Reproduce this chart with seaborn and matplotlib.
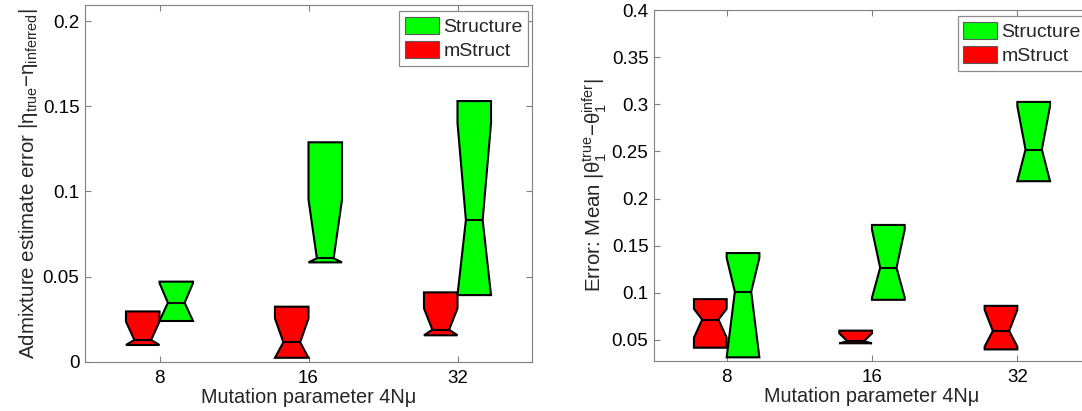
import matplotlib
matplotlib.use("Agg")
import numpy as np
import matplotlib.pyplot as plt
import seaborn as sns
from matplotlib.patches import Patch
from matplotlib.ticker import FixedLocator, FuncFormatter

# Categories and methods
mutation_levels = ["8", "16", "32"]
methods = ["Structure", "mStruct"]
method_colors = {"Structure": "#00ff00", "mStruct": "#ff0000"}

# Panel 1: admixture estimate error |eta_true - eta_inferred|
# (lower quartile, lower notch, median, upper notch, upper quartile)
adm_structure_q1 = [0.0239, 0.0583, 0.0391]
adm_structure_cilo = [0.0239, 0.0583, 0.0391]
adm_structure_med = [0.0346, 0.0607, 0.0832]
adm_structure_cihi = [0.0462, 0.0953, 0.1400]
adm_structure_q3 = [0.0470, 0.1288, 0.1530]

adm_mstruct_q1 = [0.0098, 0.0023, 0.0155]
adm_mstruct_cilo = [0.0098, 0.0023, 0.0155]
adm_mstruct_med = [0.0128, 0.0114, 0.0188]
adm_mstruct_cihi = [0.0235, 0.0254, 0.0313]
adm_mstruct_q3 = [0.0295, 0.0323, 0.0407]

# Panel 2: mean error |theta_1^true - theta_1^infer|
theta_structure_q1 = [0.0316, 0.0926, 0.2184]
theta_structure_cilo = [0.0316, 0.0950, 0.2184]
theta_structure_med = [0.1012, 0.1266, 0.2520]
theta_structure_cihi = [0.1370, 0.1670, 0.2980]
theta_structure_q3 = [0.1422, 0.1720, 0.3025]

theta_mstruct_q1 = [0.0418, 0.0465, 0.0400]
theta_mstruct_cilo = [0.0525, 0.0465, 0.0430]
theta_mstruct_med = [0.0716, 0.0486, 0.0596]
theta_mstruct_cihi = [0.0830, 0.0570, 0.0820]
theta_mstruct_q3 = [0.0933, 0.0599, 0.0862]

adm_yticks = [0, 0.05, 0.1, 0.15, 0.2]
theta_yticks = [0.05, 0.1, 0.15, 0.2, 0.25, 0.3, 0.35, 0.4]

sns.set_style("ticks")
plt.rcParams["font.family"] = ["Liberation Sans", "DejaVu Sans"]
plt.rcParams["mathtext.fontset"] = "custom"
plt.rcParams["mathtext.rm"] = "Liberation Sans"
plt.rcParams["mathtext.it"] = "Liberation Sans:italic"
plt.rcParams["mathtext.sf"] = "Liberation Sans"

SPINE = "0.5"
FS = 13.5


def box_stats(q1, cilo, med, cihi, q3):
    stats = []
    for a, b, c, d, e in zip(q1, cilo, med, cihi, q3):
        stats.append(dict(q1=a, cilo=b, med=c, cihi=d, q3=e,
                          whislo=a, whishi=e, fliers=[]))
    return stats


def draw_panel(ax, structure, mstruct, yticks, ylim, ylabel):
    base = np.arange(1, len(mutation_levels) + 1)
    width = 0.225
    for stats, offset, name in [(mstruct, -width / 2, "mStruct"),
                                (structure, width / 2, "Structure")]:
        ax.bxp(stats, positions=base + offset, widths=width,
               shownotches=True, showcaps=False, showfliers=False,
               patch_artist=True, manage_ticks=False,
               boxprops=dict(facecolor=method_colors[name],
                             edgecolor="black", linewidth=1.5),
               medianprops=dict(color="black", linewidth=1.5),
               whiskerprops=dict(visible=False))
    ax.set_xlim(0.5, len(mutation_levels) + 0.5)
    ax.set_ylim(*ylim)
    ax.set_xticks(base)
    ax.set_xticklabels(mutation_levels)
    ax.yaxis.set_major_locator(FixedLocator(yticks))
    ax.yaxis.set_major_formatter(FuncFormatter(lambda v, p: f"{v:g}"))
    ax.tick_params(direction="in", top=True, right=True, length=4,
                   width=0.8, color=SPINE, labelsize=FS, labelcolor="black")
    ax.tick_params(axis="x", pad=6)
    ax.tick_params(axis="y", pad=4)
    for sp in ax.spines.values():
        sp.set_color(SPINE)
        sp.set_linewidth(0.8)
    ax.set_xlabel("Mutation parameter 4Nμ", fontsize=14.3, labelpad=0.5)
    ax.set_ylabel(ylabel, fontsize=14.8, labelpad=2)
    handles = [Patch(facecolor=method_colors[m], edgecolor="0.35",
                     linewidth=0.8, label=m) for m in methods]
    leg = ax.legend(handles=handles, loc="upper right",
                    bbox_to_anchor=(0.992, 0.983), borderaxespad=0,
                    fontsize=14, handlelength=1.75, handleheight=0.95,
                    handletextpad=0.2, labelspacing=0.28, borderpad=0.3,
                    fancybox=False, framealpha=1)
    leg.get_frame().set_edgecolor("0.55")
    leg.get_frame().set_linewidth(0.9)


fig = plt.figure(figsize=(10.82, 4.11), dpi=100)
ax1 = fig.add_axes([85 / 1082, 1 - 361.7 / 411, 447 / 1082, 356.7 / 411])
ax2 = fig.add_axes([654 / 1082, 1 - 361 / 411, 436 / 1082, 351 / 411])

draw_panel(ax1,
           box_stats(adm_structure_q1, adm_structure_cilo, adm_structure_med,
                     adm_structure_cihi, adm_structure_q3),
           box_stats(adm_mstruct_q1, adm_mstruct_cilo, adm_mstruct_med,
                     adm_mstruct_cihi, adm_mstruct_q3),
           adm_yticks, (0, 0.2094),
           r"Admixture estimate error $|\mathrm{η}_{\mathrm{true}}\mathrm{-η}_{\mathrm{inferred}}|$")

draw_panel(ax2,
           box_stats(theta_structure_q1, theta_structure_cilo, theta_structure_med,
                     theta_structure_cihi, theta_structure_q3),
           box_stats(theta_mstruct_q1, theta_mstruct_cilo, theta_mstruct_med,
                     theta_mstruct_cihi, theta_mstruct_q3),
           theta_yticks, (0.0277, 0.4),
           r"Error: Mean $|\mathrm{θ}_1^{\mathrm{true}}\mathrm{-θ}_1^{\mathrm{infer}}|$")

fig.savefig("out.png", dpi=100)
